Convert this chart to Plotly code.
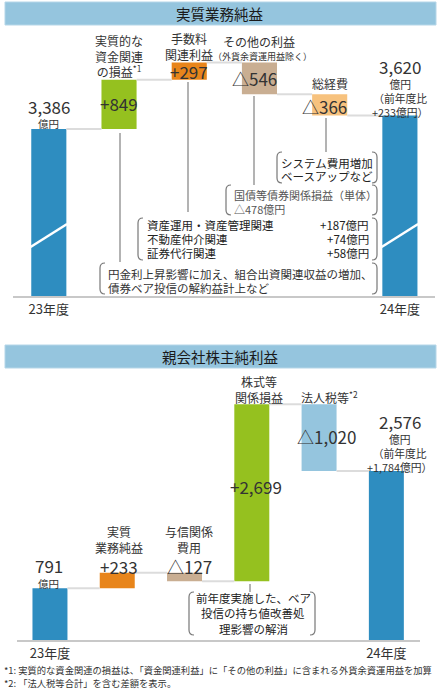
import plotly.graph_objects as go

W, H = 439, 691
FONT = "Noto Sans CJK JP"
NUM = 17  # size of the big value labels

# ── data ─────────────────────────────────────────────────────
top_title = "実質業務純益"
top_values = [3386, 849, 297, -546, -366, 3620]
top_kinds = ["total", "delta", "delta", "delta", "delta", "total"]
top_colors = ["#2e8dc0", "#95c11f", "#e8851b", "#c9ae92", "#f7c27e", "#2e8dc0"]
top_yoy = 233

bot_title = "親会社株主純利益"
bot_values = [791, 233, -127, 2699, -1020, 2576]
bot_kinds = ["total", "delta", "delta", "delta", "delta", "total"]
bot_colors = ["#2e8dc0", "#e8851b", "#c9ae92", "#95c11f", "#95c5de", "#2e8dc0"]
bot_yoy = 1784

year_labels = ["23年度", "24年度"]

fee_items = ["資産運用・資産管理関連", "不動産仲介関連", "証券代行関連"]
fee_values = [187, 74, 58]
bond_loss = -478

footnotes = [
    "*1: 実質的な資金関連の損益は、「資金関連利益」に「その他の利益」に含まれる外貨余資運用益を加算",
    "*2: 「法人税等合計」を含む差額を表示。",
]


def waterfall(values, kinds):
    bases, ends, level = [], [], 0
    for v, k in zip(values, kinds):
        if k == "total":
            bases.append(0)
            level = v
        else:
            bases.append(level)
            level += v
        ends.append(level)
    return bases, ends


def fmt(v, kind):
    if kind == "total":
        return f"{v:,}"
    return f"+{v:,}" if v > 0 else f"△{abs(v):,}"


def py(y):
    return 1 - y / H


fig = go.Figure()

# ── bars ─────────────────────────────────────────────────────
top_bases, top_ends = waterfall(top_values, top_kinds)
bot_bases, bot_ends = waterfall(bot_values, bot_kinds)

fig.add_trace(go.Bar(x=list(range(6)), y=top_values, base=top_bases, width=0.5,
                     marker=dict(color=top_colors, line_width=0),
                     hoverinfo="skip", showlegend=False, xaxis="x", yaxis="y"))
fig.add_trace(go.Bar(x=list(range(6)), y=bot_values, base=bot_bases, width=0.52,
                     marker=dict(color=bot_colors, line_width=0),
                     hoverinfo="skip", showlegend=False, xaxis="x2", yaxis="y2"))

shapes = []

# connectors between bars
for ends, xr, yr, hw in [(top_ends, "x", "y", 0.25), (bot_ends, "x2", "y2", 0.26)]:
    for i in range(5):
        shapes.append(dict(type="line", xref=xr, yref=yr, x0=i + hw, x1=i + 1 - hw,
                           y0=ends[i], y1=ends[i], line=dict(color="#dcdcdc", width=2)))

# axis break marks on the top totals
for i in (0, 5):
    shapes.append(dict(type="line", xref="x", yref="y", x0=i - 0.26, x1=i + 0.26,
                       y0=1356, y1=1752, line=dict(color="white", width=2.5)))

# header bands
for y0, y1 in [(2, 25), (345, 368)]:
    shapes.append(dict(type="rect", xref="paper", yref="paper", x0=5 / W, x1=436 / W,
                       y0=py(y1), y1=py(y0), fillcolor="#95c5de",
                       line=dict(color="#b5d6e8", width=1), layer="below"))

# leader lines (px)
for x, y0, y1 in [(120, 133, 262), (188, 82, 212), (254, 96, 185), (326, 118, 152), (250, 584, 592)]:
    shapes.append(dict(type="line", xref="paper", yref="paper", x0=x / W, x1=x / W,
                       y0=py(y0), y1=py(y1), line=dict(color="#9a9a9a", width=1.5)))


def bracket(x0, y0, x1, y1, r=5):
    def P(x, y):
        return f"{x / W:.5f},{py(y):.5f}"
    left = f"M{P(x0 + r, y0)} Q{P(x0, y0)} {P(x0, y0 + r)} L{P(x0, y1 - r)} Q{P(x0, y1)} {P(x0 + r, y1)}"
    right = f"M{P(x1 - r, y0)} Q{P(x1, y0)} {P(x1, y0 + r)} L{P(x1, y1 - r)} Q{P(x1, y1)} {P(x1 - r, y1)}"
    for p in (left, right):
        shapes.append(dict(type="path", xref="paper", yref="paper", path=p,
                           line=dict(color="#777", width=1.2)))


bracket(277, 152, 377, 183)
bracket(226, 185, 377, 215)
bracket(138, 218, 377, 260)
bracket(100, 263, 377, 294)
bracket(189, 592, 315, 635)


# ── annotations ──────────────────────────────────────────────
def note(text, x, y, size=12, color="#333", xref="x", xanchor="center"):
    if xref == "paper":
        x = x / W
    fig.add_annotation(text=text, x=x, y=py(y), xref=xref, yref="paper", showarrow=False,
                       xanchor=xanchor, yanchor="middle", borderpad=0,
                       font=dict(size=size, color=color, family=FONT))


# headers
note(top_title, 220, 14, size=14.5, color="#1a1a1a", xref="paper")
note(bot_title, 220, 357, size=14.5, color="#1a1a1a", xref="paper")

# top chart values
tv = [fmt(v, k) for v, k in zip(top_values, top_kinds)]
note(tv[0], 0, 106, size=NUM)
note("億円", 0, 124, size=10.5)
note(tv[1], 1, 103, size=NUM)
note("実質的な<br>資金関連<br>の損益<sup>*1</sup>", 1, 56)
note(tv[2], 2, 72, size=NUM)
note("手数料<br>関連利益", 2, 46)
note(tv[3], 2.93, 78, size=NUM)
note("その他の利益", 3, 42)
note("（外貨余資運用益除く）", 3.05, 56, size=9)
note("総経費", 4, 83)
note(tv[4], 3.93, 106, size=NUM)
note(tv[5], 5, 66, size=NUM)
note(f"億円<br>（前年度比<br>+{top_yoy:,}億円）", 5, 98, size=10.8)

# top chart callouts
note("システム費用増加", 327, 163, size=11.5, color="#222", xref="paper")
note("ベースアップなど", 327, 176, size=11.5, color="#222", xref="paper")
note("国債等債券関係損益（単体）", 233, 195, size=11, color="#555", xref="paper", xanchor="left")
note(f"△{abs(bond_loss)}億円", 233, 209, size=11, color="#555", xref="paper", xanchor="left")
for j, (name, val) in enumerate(zip(fee_items, fee_values)):
    note(name, 146, 225 + 14 * j, size=11.5, color="#222", xref="paper", xanchor="left")
    note(f"+{val}億円", 370, 225 + 14 * j, size=11.5, color="#222", xref="paper", xanchor="right")
note("円金利上昇影響に加え、組合出資関連収益の増加、", 107, 274, size=11.5, color="#333",
     xref="paper", xanchor="left")
note("債券ベア投信の解約益計上など", 107, 288, size=11.5, color="#333", xref="paper", xanchor="left")

# bottom chart values
bv = [fmt(v, k) for v, k in zip(bot_values, bot_kinds)]
note(bv[0], 0, 565, size=NUM)
note("億円", 0, 583, size=10.5)
note("実質<br>業務純益", 1, 539)
note(bv[1], 1, 566, size=NUM)
note("与信関係<br>費用", 2, 539)
note(bv[2], 2, 566, size=NUM)
note("株式等<br>関係損益", 3, 389)
note(bv[3], 2.95, 487, size=NUM)
note("法人税等<sup>*2</sup>", 4, 397)
note(bv[4], 3.95, 437, size=NUM)
note(bv[5], 5, 421, size=NUM)
note(f"億円<br>（前年度比<br>+{bot_yoy:,}億円）", 5, 453, size=10.8)

note("前年度実施した、ベア", 253, 598, size=11.5, color="#222", xref="paper")
note("投信の持ち値改善処", 253, 613, size=11.5, color="#222", xref="paper")
note("理影響の解消", 253, 629, size=11.5, color="#222", xref="paper")

# footnotes
note(footnotes[0], 3, 670, size=9.3, color="#333", xref="paper", xanchor="left")
note(footnotes[1], 3, 683, size=9.3, color="#333", xref="paper", xanchor="left")

# ── layout ───────────────────────────────────────────────────
xcommon = dict(tickvals=[0, 5], ticktext=year_labels, ticks="", showgrid=False, zeroline=False,
               showline=True, linecolor="#c8c8c8", linewidth=2,
               tickfont=dict(size=13, color="#333", family=FONT), fixedrange=True)
ycommon = dict(visible=False, showgrid=False, zeroline=False, fixedrange=True)

fig.update_layout(
    width=W, height=H,
    margin=dict(l=0, r=0, t=0, b=0),
    paper_bgcolor="white",
    plot_bgcolor="rgba(0,0,0,0)",
    font=dict(family=FONT, color="#333"),
    barmode="overlay",
    showlegend=False,
    shapes=shapes,
    xaxis=dict(domain=[13 / W, 435 / W], range=[-0.51, 5.5], anchor="y", **xcommon),
    yaxis=dict(domain=[py(296), py(30)], range=[514, 5089], **ycommon),
    xaxis2=dict(domain=[17 / W, 420 / W], range=[-0.49, 5.5], anchor="y2", **xcommon),
    yaxis2=dict(domain=[py(640), py(375)], range=[0, 4041], **ycommon),
)

# page body has a default 8px margin; drop it so the figure fills the window
fig.write_html("out.html", config={"displayModeBar": False},
               post_script="document.body.style.margin='0';document.body.style.overflow='hidden';")
